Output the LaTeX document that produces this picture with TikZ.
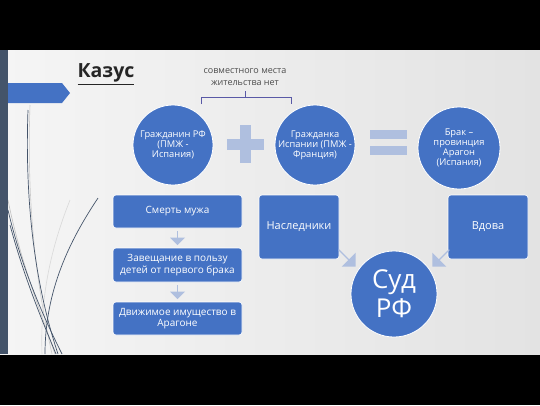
\documentclass[tikz,border=0pt]{standalone}
\usepackage{fontspec}
\setmainfont{Open Sans}
\usetikzlibrary{shapes.arrows,calc}
\definecolor{ofblue}{HTML}{4472C4}
\definecolor{arrblue}{HTML}{AFBFDF}
\definecolor{darkstrip}{HTML}{44546A}
\definecolor{bgl}{HTML}{F5F5F5}
\definecolor{bgr}{HTML}{E3E3E3}
\begin{document}
\begin{tikzpicture}[x=1pt,y=-1pt,
  circ/.style={circle,fill=ofblue,draw=white,line width=0.8pt,minimum size=80pt,inner sep=0pt,align=center,text=white,font=\fontsize{9.3}{10}\selectfont},
  sbox/.style={rounded corners=3pt,fill=ofblue,draw=white,line width=0.6pt,text=white,align=center,inner sep=1pt,font=\fontsize{10}{11.5}\selectfont},
  barr/.style={single arrow,fill=arrblue,draw=none,inner sep=0pt,single arrow head extend=3pt},
  deco/.style={line width=0.7pt,draw=darkstrip}
]
\useasboundingbox (0,0) rectangle (540,405);
\fill[black] (0,0) rectangle (540,405);
\shade[left color=bgl,right color=bgr] (0,50) rectangle (540,354);
% decorative curves
\begin{scope}
\clip (8,50) rectangle (200,354);
\draw[gray!40,line width=0.6pt] (30,105) .. controls (26,220) and (40,300) .. (52,354);
\draw[gray!50,line width=0.6pt] (8,200) .. controls (20,260) and (40,310) .. (55,354);
\draw[gray!30,line width=0.6pt] (70,200) .. controls (50,250) and (40,300) .. (42,354);
\draw[deco] (28,110) .. controls (24,220) and (40,300) .. (58,354);
\draw[deco] (8,210) .. controls (22,270) and (45,320) .. (62,354);
\draw[deco] (10,225) .. controls (25,280) and (42,320) .. (56,354);
\draw[deco] (98,198) .. controls (70,240) and (45,290) .. (45,354);
\end{scope}
\fill[darkstrip] (0,50) rectangle (8,354);
\fill[ofblue] (8,83) -- (62,83) -- (70,93) -- (62,103) -- (8,103) -- cycle;
% title
\node[font=\bfseries\fontsize{19.5}{22}\selectfont,text=black!85,inner sep=0pt] (title) at (106,74) {\underline{Казус}};
% bracket note
\node[font=\fontsize{9}{12}\selectfont,text=black!70,align=center,inner sep=0pt] (note) at (245,77) {совместного места\\жительства нет};
\draw[line width=0.6pt,draw=gray!70!blue] (201,104) -- (201,97) -- (291,97) -- (291,104);
\draw[line width=0.6pt,draw=gray!70!blue] (245,97) -- (245,91);
% circles
\node[circ] (c1) at (173,145) {Гражданин РФ\\(ПМЖ -\\Испания)};
\node[circ] (c2) at (315,145) {Гражданка\\Испании (ПМЖ -\\Франция)};
\node[circ,minimum size=82pt] (c3) at (459,148) {Брак –\\провинция\\Арагон\\(Испания)};
% plus and equals
\fill[arrblue] (240,125) rectangle (251,163);
\fill[arrblue] (227,138.5) rectangle (264,149.5);
\fill[arrblue] (370,130) rectangle (407,139);
\fill[arrblue] (370,146) rectangle (407,155);
% left column
\node[sbox,minimum width=129pt,minimum height=33pt] (b1) at (177.5,211.5) {Смерть мужа};
\node[sbox,minimum width=129pt,minimum height=34pt] (b2) at (177.5,265) {Завещание в пользу\\детей от первого брака};
\node[sbox,minimum width=129pt,minimum height=33pt] (b3) at (177.5,318.5) {Движимое имущество в\\Арагоне};
\node[barr,rotate=-90,minimum height=14pt,minimum width=15pt] (a1) at ($(b1.south)!0.5!(b2.north)$) {};
\node[barr,rotate=-90,minimum height=14pt,minimum width=15pt] (a2) at ($(b2.south)!0.5!(b3.north)$) {};
% right group
\node[sbox,minimum width=80pt,minimum height=64pt,font=\fontsize{11}{13}\selectfont] (heirs) at (299,227) {Наследники};
\node[sbox,minimum width=80pt,minimum height=64pt,font=\fontsize{11}{13}\selectfont] (widow) at (488,227) {Вдова};
\node[circ,minimum size=86pt,font=\fontsize{26}{29}\selectfont] (court) at (394,294) {Суд\\РФ};
\node[barr,rotate=-45,minimum height=24pt,minimum width=20pt] (a3) at (347,258) {};
\node[barr,rotate=-135,minimum height=24pt,minimum width=20pt] (a4) at (441,258) {};
\end{tikzpicture}
\end{document}
